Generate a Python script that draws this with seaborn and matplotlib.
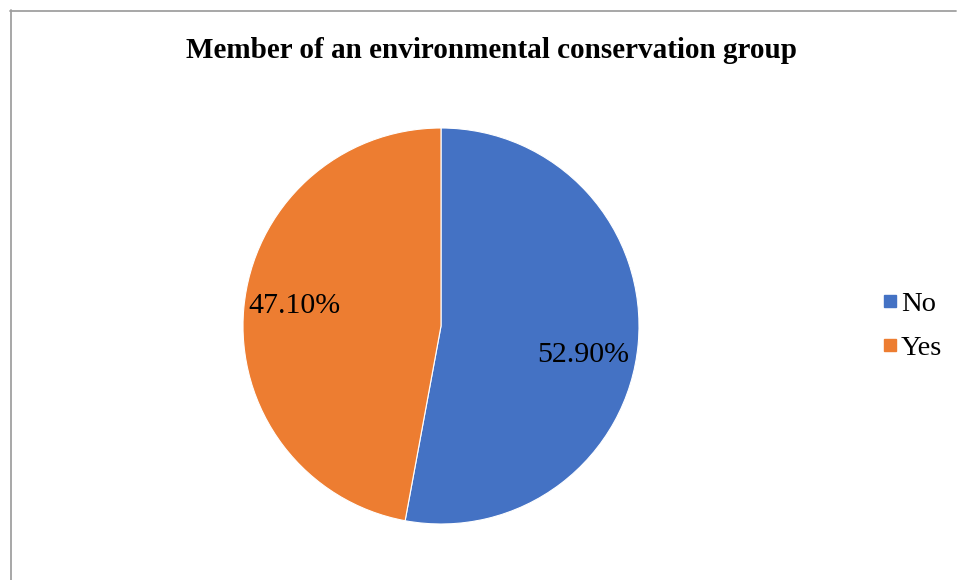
import matplotlib
matplotlib.use("Agg")
import matplotlib.pyplot as plt
from matplotlib.lines import Line2D
import seaborn as sns

sns.set_theme(style="white")
plt.rcParams["font.family"] = ["Liberation Serif", "DejaVu Serif"]
plt.rcParams["text.color"] = "black"

title = "Member of an environmental conservation group"
categories = ["No", "Yes"]
shares = [52.90, 47.10]
colors = ["#4472C4", "#ED7D31"]
# best-fit label anchors inside each slice (x/y in pie-radius units)
label_xy = [(0.717, -0.146), (-0.742, 0.101)]

W, H = 958, 580
fig = plt.figure(figsize=(W / 100, H / 100), dpi=100)

# pie axes: centre (441, 326) px, radius 198 px
cx, cy, r = 441, 326, 198
ax = fig.add_axes([(cx - r) / W, (H - cy - r) / H, 2 * r / W, 2 * r / H])
wedges, _, autotexts = ax.pie(
    shares,
    colors=colors,
    startangle=90,
    counterclock=False,
    autopct=lambda p: f"{p:.2f}%",
    pctdistance=0.75,
    radius=1,
    wedgeprops=dict(edgecolor="white", linewidth=0.8),
    textprops=dict(fontsize=21.5, color="black"),
)
for t, xy in zip(autotexts, label_xy):
    t.set_position(xy)
ax.set_xlim(-1.0, 1.0)
ax.set_ylim(-1.0, 1.0)
ax.set_aspect("equal")
ax.axis("off")

fig.text(491 / W, 1 - 51 / H, title, ha="center", va="center",
         fontsize=21, fontweight="bold", color="black")

handles = [Line2D([0], [0], marker="s", linestyle="none", markersize=9,
                  markerfacecolor=c, markeredgecolor=c) for c in colors]
fig.legend(handles, categories, loc="center left",
           bbox_to_anchor=(881 / W, 1 - 326 / H), frameon=False,
           fontsize=20.5, handletextpad=0.1, labelspacing=0.62,
           borderaxespad=0, borderpad=0, handlelength=0.6,
           labelcolor="black")

# chart area border (top and left edges visible)
border = dict(color="#A0A0A0", linewidth=1.3, transform=fig.transFigure)
fig.add_artist(Line2D([10 / W, 956 / W], [1 - 10.5 / H, 1 - 10.5 / H], **border))
fig.add_artist(Line2D([10.5 / W, 10.5 / W], [1 - 10 / H, 0], **border))

fig.savefig("out.png", dpi=100)
